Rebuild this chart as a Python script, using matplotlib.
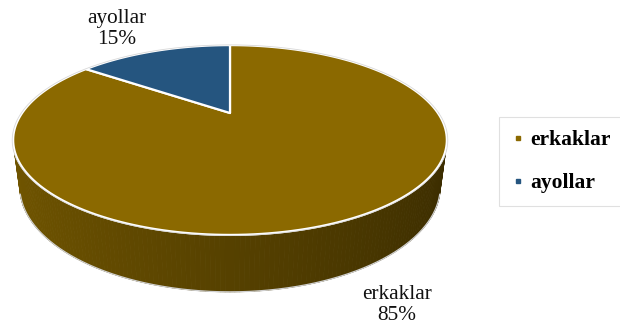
import numpy as np
import matplotlib.pyplot as plt
from matplotlib.collections import PolyCollection
from matplotlib.colors import to_rgb
from matplotlib.lines import Line2D

labels = ["erkaklar", "ayollar"]
values = [85, 15]
colors = ["#8B6900", "#25557F"]

# perspective camera for the 3d pie (pixel space)
CX, CY = 230, 113
F, D = 698.3, 3.218
XSCALE = 0.958
ELEV = np.radians(23.7)
HEIGHT = 0.231
sa, ca = np.sin(ELEV), np.cos(ELEV)


def proj(theta, z, r=1.0):
    x = r * np.cos(theta)
    y = r * np.sin(theta)
    v = y * sa + z * ca
    w = y * ca - z * sa
    s = F / (D + w)
    return CX + x * s * XSCALE, CY - v * s


def shade(color, k):
    return tuple(np.clip(np.array(to_rgb(color)) * k, 0, 1))


fig = plt.figure(figsize=(6.2, 3.25), dpi=100)
ax = fig.add_axes([0, 0, 1, 1])
ax.set_xlim(0, 620)
ax.set_ylim(325, 0)
ax.axis("off")

total = sum(values)
spans = [v / total * 2 * np.pi for v in values]
starts = np.pi / 2 - np.concatenate([[0], np.cumsum(spans)[:-1]])

# outer wall, only the part facing the camera
n = 360
th = np.linspace(0, 2 * np.pi, n + 1)
quads, qcols = [], []
for i in range(n):
    t0, t1 = th[i], th[i + 1]
    tm = 0.5 * (t0 + t1)
    if 1 + D * ca * np.sin(tm) >= 0:
        continue
    rel = (starts[0] - tm) % (2 * np.pi)
    idx = int(np.searchsorted(np.cumsum(spans), rel, side="right"))
    idx = min(idx, len(values) - 1)
    pts = [proj(t0, 0), proj(t1, 0), proj(t1, -HEIGHT), proj(t0, -HEIGHT)]
    quads.append(pts)
    qcols.append(shade(colors[idx], 0.62 - 0.2 * np.cos(tm)))
ax.add_collection(PolyCollection(quads, facecolors=qcols, edgecolors=qcols, linewidths=0.6))

# bottom rim outline
vis = th[1 + D * ca * np.sin(th) < 0]
bx, by = proj(vis, -HEIGHT)
ax.plot(bx, by, color="#d0d0d0", lw=0.9)

# top face slices
for start, span, col in zip(starts, spans, colors):
    arc = np.linspace(start, start - span, 200)
    ex, ey = proj(arc, 0)
    px = np.concatenate([[CX], ex])
    py = np.concatenate([[CY], ey])
    ax.fill(px, py, facecolor=col, edgecolor="white", lw=1.6, joinstyle="round")

# outer halo of the top face
full = np.linspace(0, 2 * np.pi, 400)
hx, hy = proj(full, 0, 1.004)
ax.plot(hx, hy, color="#d8d8d8", lw=0.6)

# data labels
pct = [f"{v / total * 100:.0f}%" for v in values]
lab_pos = [(397, 305), (117, 29)]
for lab, p, (x, y) in zip(labels, pct, lab_pos):
    ax.text(x, y, f"{lab}\n{p}", ha="center", va="center", fontsize=15.3,
            family="Liberation Serif", linespacing=1.12, color="#111111")

handles = [Line2D([], [], marker="s", ls="", markersize=3.5, color=c) for c in colors]
leg = fig.legend(handles, labels, loc="upper left", bbox_to_anchor=(499 / 620, 1 - 117 / 325),
                 prop={"family": "Liberation Serif", "weight": "bold", "size": 15.5},
                 frameon=True, fancybox=False, edgecolor="#d9d9d9", labelspacing=1.05,
                 handlelength=0.5, handletextpad=0.35, borderpad=0.62, borderaxespad=0)
leg.get_frame().set_linewidth(0.8)

fig.savefig("out.png", dpi=100)
